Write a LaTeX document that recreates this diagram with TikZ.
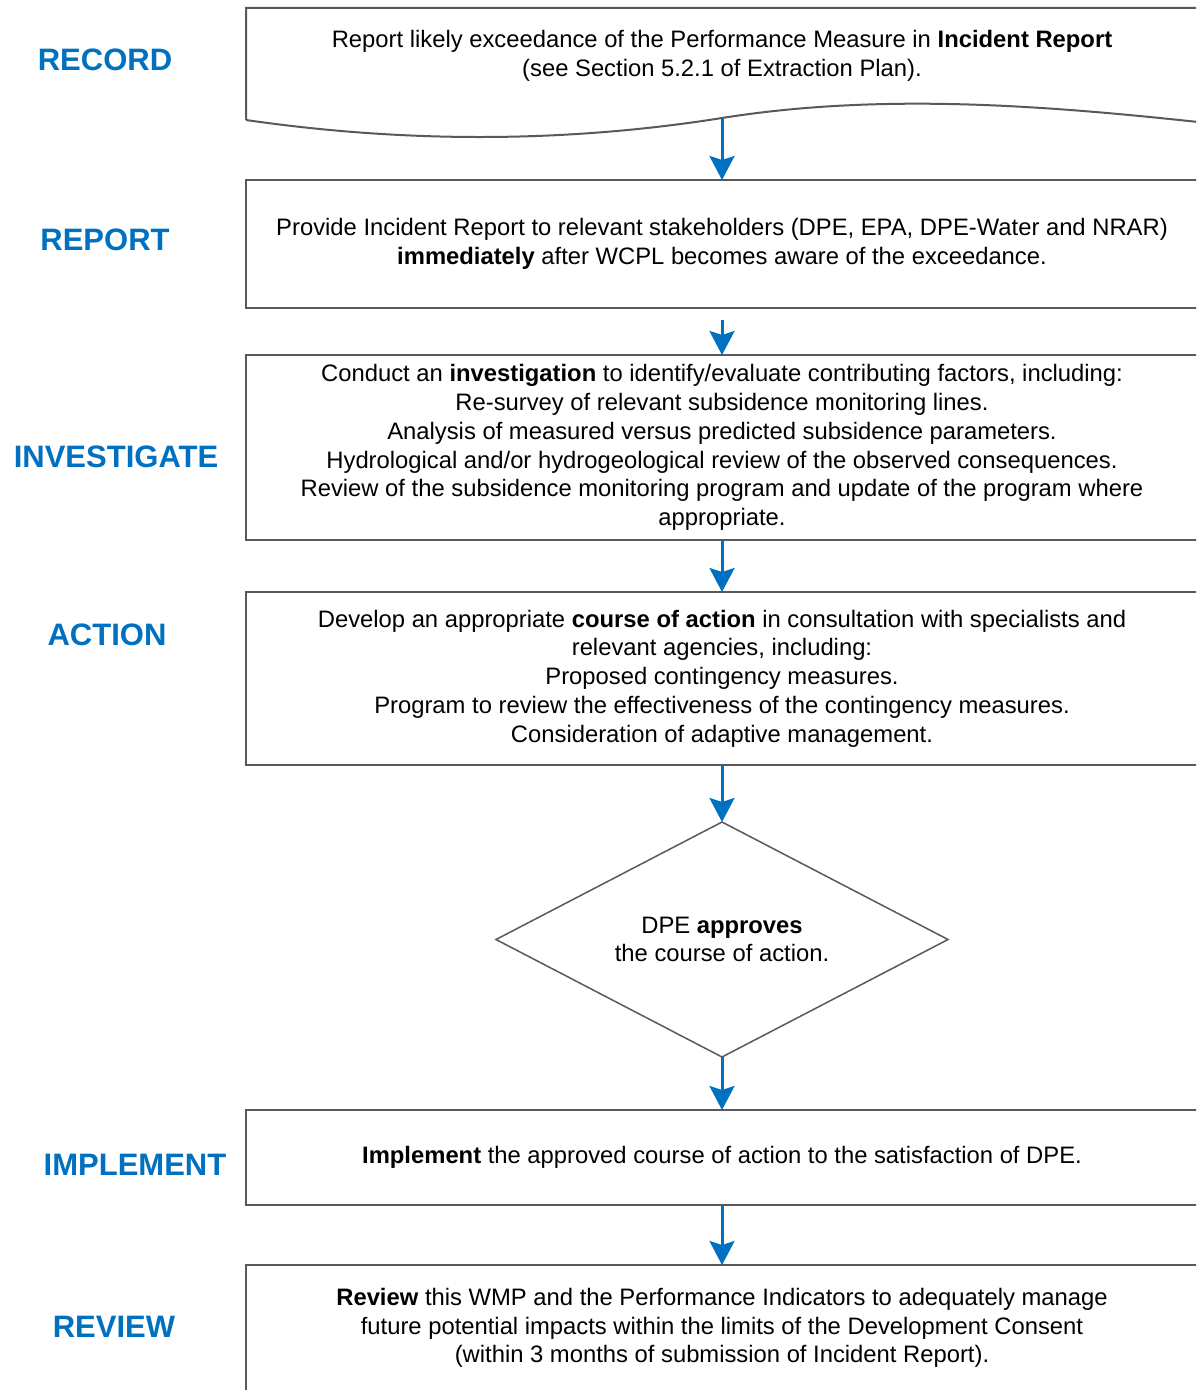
\documentclass[tikz,border=0pt]{standalone}
\usepackage{fontspec}
\setmainfont{Liberation Sans}
\usetikzlibrary{positioning,shapes.geometric,arrows.meta}
\definecolor{stageblue}{HTML}{0070C0}
\definecolor{boxgrey}{HTML}{595959}

\begin{document}
\begin{tikzpicture}[x=0.5pt,y=-0.5pt,
    box/.style={draw=boxgrey,line width=1pt,rectangle,minimum width=476pt,
      inner sep=0pt,outer sep=0pt,align=center,font=\fontsize{11.9}{14.35}\selectfont},
    txt/.style={align=center,font=\fontsize{11.9}{14.35}\selectfont},
    decision/.style={diamond,draw=boxgrey,line width=0.75pt,aspect=1.92,
      minimum width=226pt,minimum height=117.5pt,inner sep=0pt,outer sep=0pt,
      align=center,font=\fontsize{11.9}{14.35}\selectfont},
    stage/.style={text=stageblue,font=\fontsize{15.5}{18}\selectfont\bfseries},
    flow/.style={draw=stageblue,line width=1.5pt,
      -{Stealth[length=12pt,width=12.5pt,inset=2pt]}}]
    \useasboundingbox (0,0) rectangle (1196,1390);
    \clip (0,0) rectangle (1196,1390);

    % record box (document shape)
    \draw[boxgrey,line width=1pt] (246,120) -- (246,8) -- (1198,8) -- (1198,122)
      .. controls (1040,105) and (879,93) .. (722,118)
      .. controls (565,143) and (405,143) .. (246,120);
    \coordinate (recw) at (722,118);
    \node[txt] (rec) at (722,56) {Report likely exceedance of the Performance Measure in \textbf{Incident Report}\\(see Section 5.2.1 of Extraction Plan).};

    \node[box,minimum height=64pt] (rep) at (722,244) {Provide Incident Report to relevant stakeholders (DPE, EPA, DPE-Water and NRAR)\\\textbf{immediately} after WCPL becomes aware of the exceedance.};
    \node[box,minimum height=92.5pt] (inv) [below=23.5pt of rep] {Conduct an \textbf{investigation} to identify/evaluate contributing factors, including:\\Re-survey of relevant subsidence monitoring lines.\\Analysis of measured versus predicted subsidence parameters.\\Hydrological and/or hydrogeological review of the observed consequences.\\Review of the subsidence monitoring program and update of the program where\\appropriate.};
    \node[box,minimum height=86.5pt] (act) [below=26pt of inv] {Develop an appropriate \textbf{course of action} in consultation with specialists and\\relevant agencies, including:\\Proposed contingency measures.\\Program to review the effectiveness of the contingency measures.\\Consideration of adaptive management.};
    \node[decision] (apr) [below=28.5pt of act] {DPE \textbf{approves}\\the course of action.};
    \node[box,minimum height=47.5pt] (imp) [below=26.5pt of apr] {\textbf{Implement} the approved course of action to the satisfaction of DPE.};
    \node[box,minimum height=63pt] (rev) [below=30pt of imp] {\textbf{Review} this WMP and the Performance Indicators to adequately manage\\future potential impacts within the limits of the Development Consent\\(within 3 months of submission of Incident Report).};

    % stage labels
    \node[stage] at (105,60) {RECORD};
    \node[stage] at (105,240) {REPORT};
    \node[stage] at (116,457) {INVESTIGATE};
    \node[stage] at (107,635) {ACTION};
    \node[stage] at (135,1165) {IMPLEMENT};
    \node[stage] at (114,1327) {REVIEW};

    \draw[flow] (recw) to (rep);
    \draw[flow,shorten <=6pt] (rep) to (inv);
    \draw[flow] (inv) to (act);
    \draw[flow] (act) to (apr);
    \draw[flow] (apr) to (imp);
    \draw[flow] (imp) to (rev);
\end{tikzpicture}
\end{document}
